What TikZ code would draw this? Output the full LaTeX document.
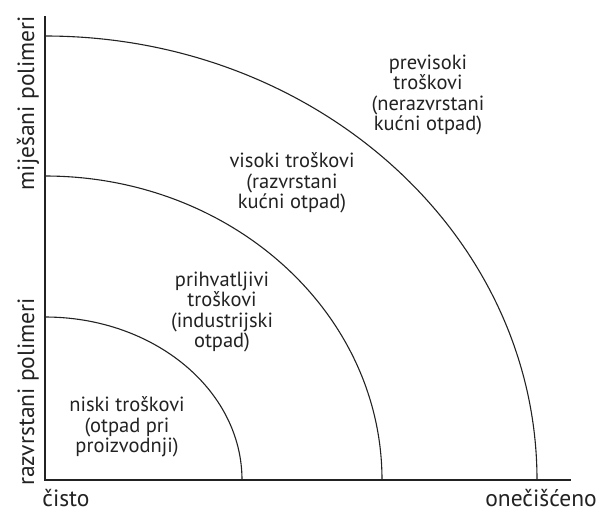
\documentclass[tikz,border=0pt]{standalone}
\usepackage{fontspec}
\setmainfont{PT Sans}
\definecolor{ink}{HTML}{222222}
\begin{document}
\begin{tikzpicture}[x=1pt,y=-1pt,
  axis/.style={draw=ink,line width=1.6pt},
  arcline/.style={draw=ink,line width=1.1pt},
  lbl/.style={text=ink,align=center,inner sep=0pt,font=\fontsize{20.5}{20.5}\selectfont},
  axlbl/.style={text=ink,inner sep=0pt,font=\fontsize{23.5}{25}\selectfont}]
\useasboundingbox (0,0) rectangle (601,512);
\coordinate (o) at (45,480);
\coordinate (ytop) at (45,16);
\coordinate (xend) at (571,480);
\coordinate (a1) at (45,317);
\coordinate (a2) at (45,176);
\coordinate (a3) at (45,36);
\draw[arcline] (a1) arc[start angle=-90,end angle=0,x radius=197,y radius=163];
\draw[arcline] (a2) arc[start angle=-90,end angle=0,x radius=337,y radius=304];
\draw[arcline] (a3) arc[start angle=-90,end angle=0,x radius=492,y radius=444];
\draw[axis] (ytop) -- (o) -- (xend);
\node[lbl] (t4) at (428,95) {previsoki\\troškovi\\(nerazvrstani\\kućni otpad)};
\node[lbl] (t3) at (292,183) {visoki troškovi\\(razvrstani\\kućni otpad)};
\node[lbl] (t2) at (222,312) {prihvatljivi\\troškovi\\(industrijski\\otpad)};
\node[lbl] (t1) at (127,427) {niski troškovi\\(otpad pri\\proizvodnji)};
\node[axlbl,anchor=base] (cx) at (66,506) {čisto};
\node[axlbl,anchor=base] (dx) at (541,506) {onečišćeno};
\node[axlbl,anchor=base,rotate=90] (my) at (34,103) {miješani polimeri};
\node[axlbl,anchor=base,rotate=90] (ry) at (34,392) {razvrstani polimeri};
\end{tikzpicture}
\end{document}
